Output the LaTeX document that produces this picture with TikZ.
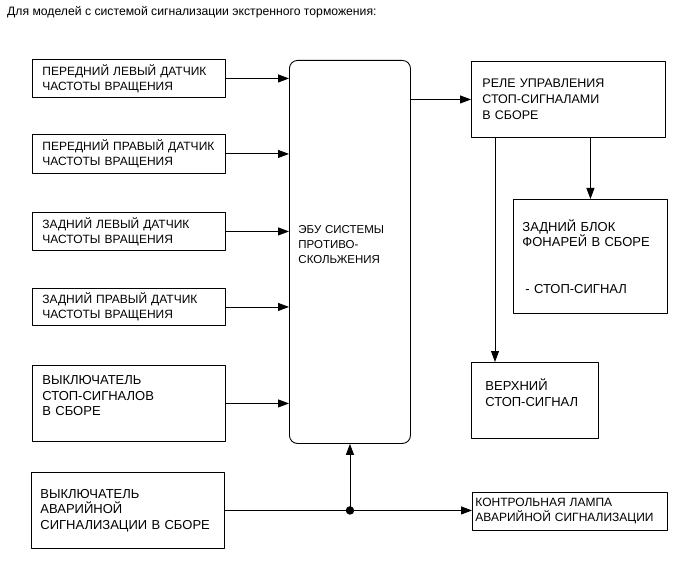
\documentclass[tikz,border=0pt]{standalone}
\usepackage{fontspec}
\setmainfont{Liberation Sans}
\usetikzlibrary{arrows.meta,calc,positioning}
\tikzset{
  every picture/.append style={line cap=round,line join=round},
  abs box/.style={draw,line width=0.9pt,anchor=north west,align=left,inner ysep=0pt,inner xsep=10pt},
  abs ecu/.style={abs box,rounded corners=8pt},
  abs small/.style={font=\fontsize{12}{15}\selectfont},
  abs large/.style={font=\fontsize{13}{15.5}\selectfont},
  abs arrow/.style={line width=0.9pt,-{Triangle[length=11pt,width=8pt]}},
  abs dot/.style={circle,fill=black,inner sep=0pt,minimum size=8.5pt},
  abs note/.style={font=\fontsize{12.2}{15}\selectfont,anchor=base west,inner sep=0pt}
}

\begin{document}
\begin{tikzpicture}[x=1pt,y=-1pt]
  \useasboundingbox (0,0) rectangle (691,564);
  \node[abs note] (title) at (7,16) {Для моделей с системой сигнализации экстренного торможения:};

  % inputs
  \node[abs box,abs small,text width=173pt,minimum height=38pt] (fl) at (32,59) {ПЕРЕДНИЙ ЛЕВЫЙ ДАТЧИК\\ЧАСТОТЫ ВРАЩЕНИЯ};
  \node[abs box,abs small,text width=173pt,minimum height=39pt] (fr) at (32,134) {ПЕРЕДНИЙ ПРАВЫЙ ДАТЧИК\\ЧАСТОТЫ ВРАЩЕНИЯ};
  \node[abs box,abs small,text width=173pt,minimum height=38pt] (rl) at (32,212) {ЗАДНИЙ ЛЕВЫЙ ДАТЧИК\\ЧАСТОТЫ ВРАЩЕНИЯ};
  \node[abs box,abs small,text width=173pt,minimum height=37pt] (rr) at (32,288) {ЗАДНИЙ ПРАВЫЙ ДАТЧИК\\ЧАСТОТЫ ВРАЩЕНИЯ};
  \node[abs box,abs large,text width=173pt,minimum height=76pt] (stopsw) at (32,365) {ВЫКЛЮЧАТЕЛЬ\\СТОП-СИГНАЛОВ\\В СБОРЕ\\ \mbox{}};
  \node[abs box,abs large,text width=175pt,minimum height=76pt,inner xsep=9pt] (hazsw) at (31,472) {ВЫКЛЮЧАТЕЛЬ\\АВАРИЙНОЙ\\СИГНАЛИЗАЦИИ В СБОРЕ};

  % control unit
  \node[abs ecu,font=\fontsize{11.5}{15}\selectfont,text width=103pt,minimum height=383pt,inner xsep=9pt] (ecu) at (289,60) {ЭБУ СИСТЕМЫ\\ПРОТИВО-\\СКОЛЬЖЕНИЯ\\ \mbox{}};

  % outputs
  \node[abs box,font=\fontsize{12.5}{16}\selectfont,text width=172pt,minimum height=76pt,inner xsep=11pt] (relay) at (471,61) {РЕЛЕ УПРАВЛЕНИЯ\\СТОП-СИГНАЛАМИ\\В СБОРЕ};
  \node[abs box,abs large,text width=136pt,minimum height=114pt,inner xsep=9pt] (rearlamp) at (513,199) {ЗАДНИЙ БЛОК\\ФОНАРЕЙ В СБОРЕ\\ \mbox{}\\ \mbox{}\\ \hspace*{3pt}- СТОП-СИГНАЛ};
  \node[abs box,abs large,text width=99pt,minimum height=76pt,inner xsep=14pt] (hmsl) at (471,362) {ВЕРХНИЙ\\СТОП-СИГНАЛ\\ \mbox{}};
  \node[abs box,abs small,text width=189pt,minimum height=38pt,inner xsep=3pt] (lamp) at (472,492) {КОНТРОЛЬНАЯ ЛАМПА\\АВАРИЙНОЙ СИГНАЛИЗАЦИИ};

  % wiring
  \foreach \s in {fl,fr,rl,rr,stopsw}
    \draw[abs arrow] (\s.east) -- (\s.east -| ecu.west);
  \draw[abs arrow] (relay.west -| ecu.east) -- (relay.west);
  \draw[abs arrow] (rearlamp.north |- relay.south) -- (rearlamp.north);
  \coordinate (hmslin) at ([xshift=24pt]hmsl.north west);
  \draw[abs arrow] (hmslin |- relay.south) -- (hmslin);
  \coordinate (jn) at (ecu.south |- hazsw.east);
  \draw[abs arrow] (hazsw.east) -- (hazsw.east -| lamp.west);
  \draw[abs arrow] (jn) -- (ecu.south);
  \node[abs dot] (jdot) at (jn) {};
\end{tikzpicture}
\end{document}
